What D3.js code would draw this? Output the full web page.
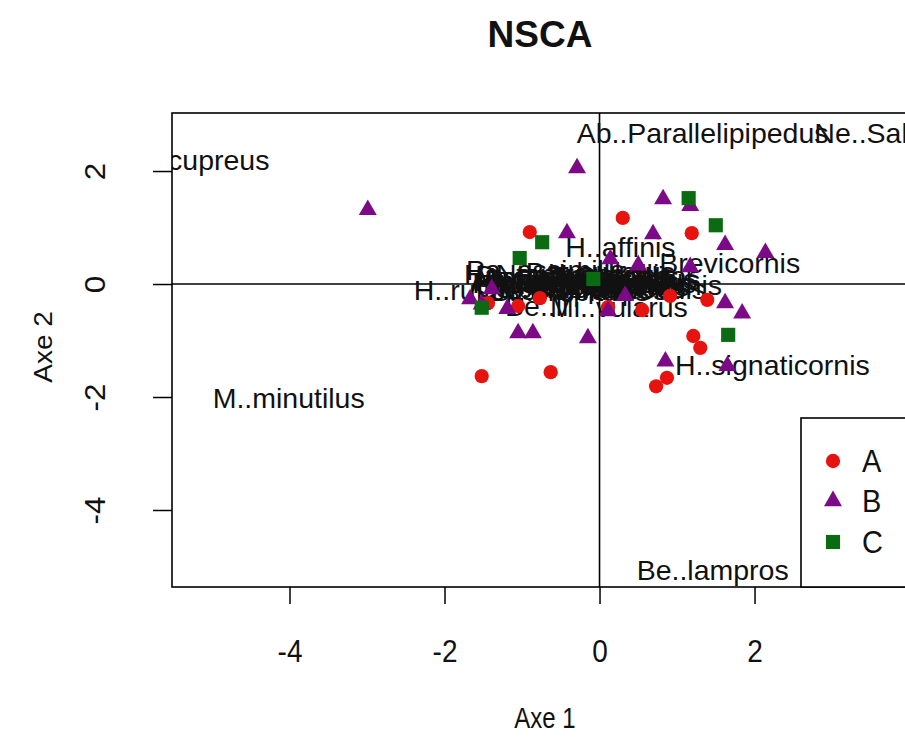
<!DOCTYPE html>
<html>
<head>
<meta charset="utf-8">
<script src="https://cdn.jsdelivr.net/npm/d3@7"></script>
<style>
  html, body { margin: 0; padding: 0; background: #fff; }
  svg { display: block; font-family: "Liberation Sans", Arial, sans-serif; }
</style>
</head>
<body>
<svg id="chart" width="905" height="753"></svg>
<script>
// NSCA biplot: site scores by group (A, B, C) and species labels

const groups = ["A", "B", "C"];
const groupColors = ["#e6130f", "#7c0a86", "#0a6b12"];

// Group A site scores (axis 1, axis 2)
const groupA_x = [-0.90, 0.30, 1.19, -0.77, -1.05, -1.44, 0.11, 0.55, 0.91, 1.39, 1.21, 1.30, 0.87, 0.73, -1.52, -0.63];
const groupA_y = [0.92, 1.17, 0.90, -0.25, -0.39, -0.34, -0.41, -0.46, -0.21, -0.28, -0.92, -1.13, -1.66, -1.81, -1.63, -1.56];

// Group B site scores
const groupB_x = [-2.99, -0.29, 0.82, 1.17, 0.69, 1.62, 2.14, -0.42, 0.14, 0.50, 1.17, -1.39, -1.52, -1.19, -1.05, -0.86, -0.15, 0.11, 0.33, 1.62, 1.84, 0.85, 1.65, -1.67];
const groupB_y = [1.33, 2.07, 1.52, 1.40, 0.90, 0.71, 0.57, 0.92, 0.46, 0.35, 0.32, -0.07, -0.34, -0.42, -0.85, -0.85, -0.94, -0.46, -0.19, -0.32, -0.50, -1.35, -1.43, -0.25];

// Group C site scores
const groupC_x = [-1.52, 1.15, 1.50, -0.74, -1.03, -0.08, 1.66];
const groupC_y = [-0.42, 1.52, 1.04, 0.74, 0.46, 0.09, -0.90];

// Species column scores and abbreviated names
const species = ["Po..cupreus", "Ab..Parallelipipedus", "Ne..Salina", "H..affinis", "Brevicornis",
  "H..rufipes", "H..signaticornis", "M..minutilus", "Be..lampros", "Mi..vularus", "Be..li",
  "Am..aenea", "Am..familiaris", "Am..similata", "Ag..dorsalis", "Ps..rufipes", "Pt..melanarius",
  "Pt..madidus", "Ca..fuscipes", "Ne..brevicollis", "Tr..secalis", "Ca..nemoralis",
  "Ba..bullatus", "Ha..rubripes", "Ha..latus", "Po..versicolor", "Br..crepitans", "Ca..granulatus",
  "Di..germanus", "Cl..fossor", "Lo..pilicornis", "Pa..assimilis", "Ch..vestitus",
  "Ha..tardus", "Op..ardosiacus", "An..dorsalis"];
const species_x = [-5.24, 1.33, 3.62, 0.27, 1.68,
  -1.61, 2.23, -4.01, 1.46, 0.25, -0.81,
  -0.77, -0.19, -0.51, 0.20, 0.01, -0.15,
  0.33, -0.57, -0.19, 0.20, 0.24,
  0.01, -0.64, 0.52, 0.01, -0.38, 0.07,
  -0.51, 0.46, 0.56, -0.70, -0.66,
  -0.90, -0.12, -0.70];
const species_y = [2.19, 2.67, 2.67, 0.65, 0.37,
  -0.11, -1.43, -2.02, -5.06, -0.41, -0.39,
  0.05, -0.02, 0.12, -0.04, -0.11, 0.05,
  0.07, -0.07, 0.18, 0.14, -0.09,
  0.21, 0.02, 0.02, 0.02, -0.12, 0.09,
  0.16, 0.14, -0.02, 0.25, 0.00,
  0.18, -0.07, 0.09];

const xTicks = [-4, -2, 0, 2];
const yTicks = [-4, -2, 0, 2];

const svg = d3.select("#chart");
const pLeft = 172, pRight = 908, pTop = 113, pBottom = 587;
const fmt = d => String(d); // plain hyphen-minus, as in base graphics
const tall = 1.15;          // glyphs of the axis annotations are drawn slightly tall

const x = d3.scaleLinear().domain([-5.516, 3.98]).range([pLeft, pRight]);
const y = d3.scaleLinear().domain([-5.363, 3.027]).range([pBottom, pTop]);

svg.append("defs").append("clipPath").attr("id", "plotclip")
  .append("rect").attr("x", pLeft).attr("y", pTop)
  .attr("width", pRight - pLeft).attr("height", pBottom - pTop);

// Title
svg.append("text").attr("x", 540).attr("y", 47)
  .attr("text-anchor", "middle").attr("font-weight", "bold")
  .attr("font-size", 37).attr("fill", "#111").text("NSCA");

// Axis titles
svg.append("text").attr("transform", `translate(545,718) scale(1,1.2)`)
  .attr("dy", "0.35em")
  .attr("text-anchor", "middle").attr("font-size", 24).attr("fill", "#111").text("Axe 1");
svg.append("text").attr("transform", `translate(43,347) scale(1,1.12) rotate(-90)`)
  .attr("dy", "0.35em")
  .attr("text-anchor", "middle").attr("font-size", 25).attr("fill", "#111").text("Axe 2");

// Axes
const gx = svg.append("g").attr("transform", `translate(0,${pBottom})`)
  .call(d3.axisBottom(x).tickValues(xTicks).tickSize(17).tickFormat(fmt));
gx.select(".domain").remove();
gx.selectAll(".tick line").attr("stroke", "#000").attr("stroke-width", 1.5);
gx.selectAll(".tick text")
  .attr("font-size", 28).attr("font-family", "Liberation Sans, Arial, sans-serif").attr("fill", "#111")
  .attr("y", null).attr("dy", "0.35em")
  .attr("transform", `translate(0,64) scale(1,${tall})`);

const gy = svg.append("g").attr("transform", `translate(${pLeft},0)`)
  .call(d3.axisLeft(y).tickValues(yTicks).tickSize(19).tickFormat(fmt));
gy.select(".domain").remove();
gy.selectAll(".tick line").attr("stroke", "#000").attr("stroke-width", 1.5);
gy.selectAll(".tick text")
  .attr("font-size", 29).attr("font-family", "Liberation Sans, Arial, sans-serif").attr("fill", "#111")
  .attr("x", null)
  .attr("text-anchor", "middle")
  .attr("transform", `translate(-77,0) scale(1,1.08) rotate(-90)`)
  .attr("dy", "0.35em");

const plot = svg.append("g").attr("clip-path", "url(#plotclip)");

// Reference lines through the origin
plot.append("line").attr("x1", pLeft).attr("x2", pRight).attr("y1", y(0)).attr("y2", y(0))
  .attr("stroke", "#000").attr("stroke-width", 1.6);
plot.append("line").attr("x1", x(0)).attr("x2", x(0)).attr("y1", pTop).attr("y2", pBottom)
  .attr("stroke", "#000").attr("stroke-width", 1.6);

// Species labels (drawn beneath the site markers)
plot.selectAll("text.sp").data(species).join("text")
  .attr("class", "sp")
  .attr("x", (d, i) => x(species_x[i]))
  .attr("y", (d, i) => y(species_y[i]))
  .attr("dy", "0.35em")
  .attr("text-anchor", "middle")
  .attr("font-size", 28.5)
  .attr("fill", "#111")
  .text(d => d);

// Site markers
const circle = d3.symbol().type(d3.symbolCircle).size(160);
const tri = d3.symbol().type(d3.symbolTriangle).size(140);
const sq = d3.symbol().type(d3.symbolSquare).size(200);
const shapes = [circle, tri, sq];
const xs = [groupA_x, groupB_x, groupC_x];
const ys = [groupA_y, groupB_y, groupC_y];

groups.forEach((g, gi) => {
  const pts = xs[gi].map((v, i) => [v, ys[gi][i]]);
  plot.selectAll(`path.g${g}`).data(pts).join("path")
    .attr("class", `g${g}`)
    .attr("d", shapes[gi]())
    .attr("transform", d => `translate(${x(d[0])},${y(d[1]) + (gi === 1 ? 1 : 0)})`)
    .attr("fill", groupColors[gi]);
});

// Plot frame
svg.append("rect").attr("x", pLeft).attr("y", pTop)
  .attr("width", pRight - pLeft).attr("height", pBottom - pTop)
  .attr("fill", "none").attr("stroke", "#000").attr("stroke-width", 1.6);

// Legend (bottom right)
const lg = svg.append("g");
lg.append("rect").attr("x", 801).attr("y", 418).attr("width", pRight - 801).attr("height", pBottom - 418)
  .attr("fill", "#fff").attr("stroke", "#000").attr("stroke-width", 1.6);
const legendY = [461, 501, 542];
groups.forEach((g, gi) => {
  lg.append("path").attr("d", shapes[gi]())
    .attr("transform", `translate(833,${legendY[gi]})`)
    .attr("fill", groupColors[gi]);
  lg.append("text").attr("transform", `translate(862,${legendY[gi]}) scale(1,1.1)`).attr("dy", "0.36em")
    .attr("font-size", 29).attr("fill", "#111").text(g);
});
</script>
</body>
</html>
